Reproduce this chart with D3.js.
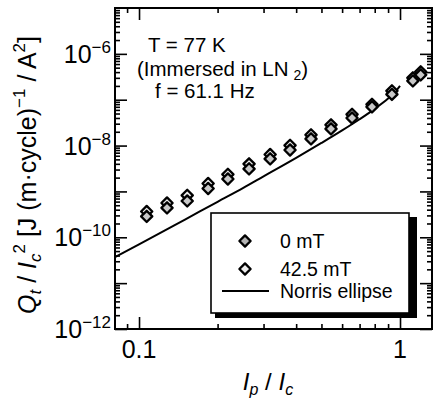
<!DOCTYPE html>
<html>
<head>
<meta charset="utf-8">
<script src="https://cdn.jsdelivr.net/npm/d3@7"></script>
<style>
  body { margin: 0; background: #fff; }
  svg { display: block; font-family: "Liberation Sans", Arial, sans-serif; }
</style>
</head>
<body>
<div class="vis-chart"></div>
<script>
// values
const ipIc = [0.107, 0.128, 0.153, 0.184, 0.219, 0.264, 0.318, 0.379, 0.456, 0.544, 0.655, 0.781, 0.931, 1.12, 1.20];
const q0mT = [2.85e-10, 4.37e-10, 6.2e-10, 1.16e-9, 1.87e-9, 3.1e-9, 5.12e-9, 8.0e-9, 1.4e-8, 2.31e-8, 4.0e-8, 6.98e-8, 1.31e-7, 2.58e-7, 3.48e-7];
const q42mT = [3.66e-10, 5.6e-10, 8.2e-10, 1.49e-9, 2.35e-9, 3.98e-9, 6.4e-9, 1.01e-8, 1.71e-8, 2.82e-8, 4.79e-8, 7.9e-8, 1.56e-7, 2.99e-7, 4.05e-7];
const norrisIp = [0.08, 0.1, 0.15, 0.2, 0.25, 0.3, 0.4, 0.5, 0.6, 0.7, 0.8, 0.9, 0.95, 1.0];
const norrisQ = [3.56e-11, 7.0e-11, 2.44e-10, 5.94e-10, 1.18e-9, 2.13e-9, 5.4e-9, 1.14e-8, 2.14e-8, 3.75e-8, 6.32e-8, 1.06e-7, 1.4e-7, 2.0e-7];
const xLabels = [0.1, 1];
const yLabels = [-12, -10, -8, -6];
const seriesNames = ["0 mT", "42.5 mT", "Norris ellipse"];

const W = 434, H = 399;
const margin = { top: 8, right: 2, bottom: 70, left: 115 };
const width = W - margin.left - margin.right;
const height = H - margin.top - margin.bottom;

const svg = d3.select('.vis-chart').append('svg')
    .attr('width', W)
    .attr('height', H);

const x = d3.scaleLog().domain([0.0809, 1.326]).range([0, width]);
const y = d3.scaleLog().domain([1e-12, 1e-5]).range([height, 0]);

const g = svg.append('g')
    .attr('transform', 'translate(' + margin.left + ',' + margin.top + ')');

g.append('clipPath').attr('id', 'clip')
    .append('rect').attr('width', width).attr('height', height);

// tick values: 1..9 of every decade
const xTicks = [];
[0.01, 0.1, 1].forEach(d => { for (let k = 1; k < 10; k++) xTicks.push(d * k); });
const xTickVals = xTicks.filter(v => v >= 0.0809 && v <= 1.326);
const yTickVals = [];
for (let e = -12; e < -5; e++) for (let k = 1; k < 10; k++) yTickVals.push(k * Math.pow(10, e));

const isMajor = v => Math.abs(Math.log10(v) - Math.round(Math.log10(v))) < 1e-6;
const majLen = 12, minLen = 5;

function styleAxis(sel) {
    sel.select('.domain').remove();
    sel.selectAll('.tick line').attr('stroke', '#000').attr('stroke-width', 1.6);
    sel.selectAll('.tick text').remove();
}

// bottom and top axes, ticks inside
const xb = g.append('g').attr('transform', 'translate(0,' + height + ')')
    .call(d3.axisBottom(x).tickValues(xTickVals).tickSize(-majLen));
styleAxis(xb);
xb.selectAll('.tick line').attr('y2', d => isMajor(d) ? -majLen : -minLen);

const xt = g.append('g')
    .call(d3.axisTop(x).tickValues(xTickVals).tickSize(-majLen));
styleAxis(xt);
xt.selectAll('.tick line').attr('y2', d => isMajor(d) ? majLen : minLen);

const yl = g.append('g')
    .call(d3.axisLeft(y).tickValues(yTickVals).tickSize(-majLen));
styleAxis(yl);
yl.selectAll('.tick line').attr('x2', d => isMajor(d) ? majLen : minLen);

const yr = g.append('g').attr('transform', 'translate(' + width + ',0)')
    .call(d3.axisRight(y).tickValues(yTickVals).tickSize(-majLen));
styleAxis(yr);
yr.selectAll('.tick line').attr('x2', d => isMajor(d) ? -majLen : -minLen);

// frame
g.append('rect')
    .attr('width', width).attr('height', height)
    .attr('fill', 'none').attr('stroke', '#000').attr('stroke-width', 2);

// tick labels
g.selectAll('.xlab').data(xLabels).enter().append('text')
    .attr('class', 'xlab')
    .attr('x', d => x(d)).attr('y', height + 29)
    .attr('text-anchor', 'middle')
    .style('font-size', '25px')
    .text(d => d);

const ylab = g.selectAll('.ylab').data(yLabels).enter().append('text')
    .attr('class', 'ylab')
    .attr('x', -4).attr('y', d => y(Math.pow(10, d)) + 9)
    .attr('text-anchor', 'end')
    .style('font-size', '25px');
ylab.append('tspan').text('10');
ylab.append('tspan').attr('dy', -10).style('font-size', '17px').text(d => '\u2212' + (-d));

// Norris ellipse
const line = d3.line()
    .x((d, i) => x(norrisIp[i]))
    .y(d => y(d))
    .curve(d3.curveMonotoneX);
g.append('path')
    .attr('clip-path', 'url(#clip)')
    .attr('d', line(norrisQ))
    .attr('fill', 'none').attr('stroke', '#000').attr('stroke-width', 2);

// markers
const diamond = d3.symbol().type(d3.symbolDiamond2).size(80);
function drawSeries(vals, fill) {
    g.append('g').selectAll('path').data(vals).enter().append('path')
        .attr('d', diamond)
        .attr('transform', (d, i) => 'translate(' + x(ipIc[i]) + ',' + y(d) + ')')
        .attr('fill', fill).attr('stroke', '#000').attr('stroke-width', 2.3)
        .attr('stroke-linejoin', 'round');
}
drawSeries(q42mT, '#ececec');
drawSeries(q0mT, '#c8c8c8');

// annotation
const note = g.append('g').style('font-size', '20.5px');
note.append('text').attr('x', 33).attr('y', 44).text('T = 77 K');
const n2 = note.append('text').attr('x', 22).attr('y', 68);
n2.append('tspan').text('(Immersed in LN');
n2.append('tspan').attr('dx', 5).attr('dy', 4).style('font-size', '14px').text('2');
n2.append('tspan').attr('dy', -4).text(')');
note.append('text').attr('x', 40).attr('y', 90).text('f = 61.1 Hz');

// legend
const lg = svg.append('g');
lg.append('rect').attr('x', 215).attr('y', 217).attr('width', 202).attr('height', 101).attr('fill', '#000');
lg.append('rect').attr('x', 211).attr('y', 213).attr('width', 198).attr('height', 100)
    .attr('fill', '#fff').attr('stroke', '#000').attr('stroke-width', 1.6);
const rows = [241, 269, 291];
const fills = ['#b4b4b4', '#ececec'];
[0, 1].forEach(i => {
    lg.append('path').attr('d', diamond)
        .attr('transform', 'translate(245,' + rows[i] + ')')
        .attr('fill', fills[i]).attr('stroke', '#000').attr('stroke-width', 2.3)
        .attr('stroke-linejoin', 'round');
});
lg.append('line').attr('x1', 222).attr('x2', 269).attr('y1', rows[2]).attr('y2', rows[2])
    .attr('stroke', '#000').attr('stroke-width', 2);
lg.selectAll('.ltext').data(seriesNames).enter().append('text')
    .attr('x', 280).attr('y', (d, i) => rows[i] + 7)
    .style('font-size', '19.5px')
    .text(d => d);

// axis titles
const xt2 = svg.append('text')
    .attr('x', 268).attr('y', 390)
    .attr('text-anchor', 'middle')
    .style('font-size', '24px');
xt2.append('tspan').style('font-style', 'italic').text('I');
xt2.append('tspan').attr('dy', 5).style('font-size', '16px').style('font-style', 'italic').text('p');
xt2.append('tspan').attr('dy', -5).text(' / ');
xt2.append('tspan').style('font-style', 'italic').text('I');
xt2.append('tspan').attr('dy', 5).style('font-size', '16px').style('font-style', 'italic').text('c');

const yt = svg.append('text')
    .attr('transform', 'translate(36,175) rotate(-90)')
    .attr('text-anchor', 'middle')
    .style('font-size', '25px');
yt.append('tspan').style('font-style', 'italic').text('Q');
yt.append('tspan').attr('dy', 5).style('font-size', '17px').style('font-style', 'italic').text('t');
yt.append('tspan').attr('dy', -5).text(' / ');
yt.append('tspan').style('font-style', 'italic').text('I');
yt.append('tspan').attr('dy', 5).style('font-size', '17px').style('font-style', 'italic').text('c');
yt.append('tspan').attr('dy', -16).style('font-size', '17px').text('2');
yt.append('tspan').attr('dy', 11).text('  [J (m\u00b7cycle)');
yt.append('tspan').attr('dy', -11).style('font-size', '17px').text('\u22121');
yt.append('tspan').attr('dy', 11).text(' / A');
yt.append('tspan').attr('dy', -11).style('font-size', '17px').text('2');
yt.append('tspan').attr('dy', 11).text(']');
</script>
</body>
</html>
